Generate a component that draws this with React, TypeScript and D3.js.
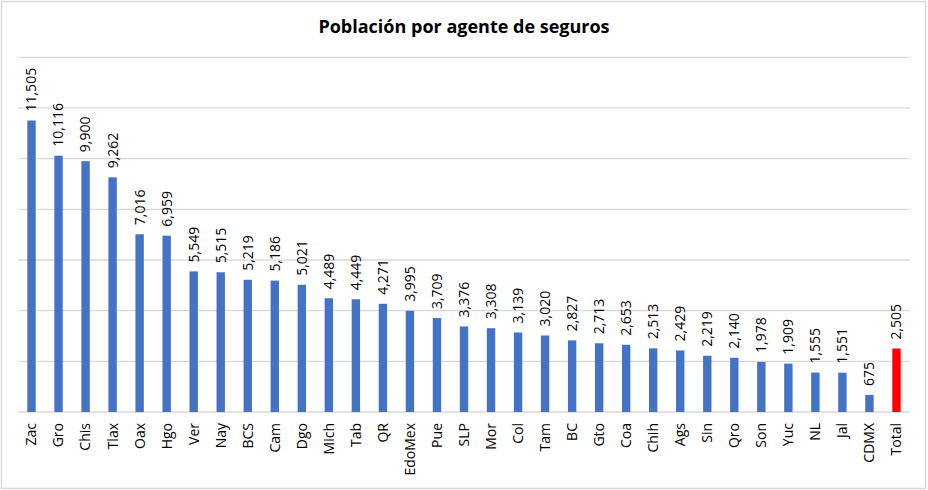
import React from 'react';
import * as d3 from 'd3';

const states = ['Zac', 'Gro', 'Chis', 'Tlax', 'Oax', 'Hgo', 'Ver', 'Nay', 'BCS', 'Cam', 'Dgo', 'Mich', 'Tab', 'QR', 'EdoMex', 'Pue', 'SLP', 'Mor', 'Col', 'Tam', 'BC', 'Gto', 'Coa', 'Chih', 'Ags', 'Sin', 'Qro', 'Son', 'Yuc', 'NL', 'Jal', 'CDMX', 'Total'];
const population = [11505, 10116, 9900, 9262, 7016, 6959, 5549, 5515, 5219, 5186, 5021, 4489, 4449, 4271, 3995, 3709, 3376, 3308, 3139, 3020, 2827, 2713, 2653, 2513, 2429, 2219, 2140, 1978, 1909, 1555, 1551, 675, 2505];
const gridTicks = [0, 2000, 4000, 6000, 8000, 10000, 12000, 14000];

const W = 928;
const H = 490;
const FONT = '"Open Sans", sans-serif';

const App: React.FC = () => {
  const x = d3.scaleBand<string>().domain(states).range([18, 910]).paddingInner(0.69).paddingOuter(0.345);
  const y = d3.scaleLinear().domain([0, 14000]).range([412, 57.3]);
  const fmt = d3.format(',');

  return (
    <svg width={W} height={H} style={{ position: 'absolute', left: 0, top: 0, background: '#fff' }}>
      <rect x={1.5} y={1.5} width={W - 4} height={H - 3} fill="#fff" stroke="#d9d9d9" strokeWidth={1.5} />
      <text x={464} y={33} textAnchor="middle" fontFamily={FONT} fontWeight="bold" fontSize={18} fill="#000">
        Población por agente de seguros
      </text>
      {gridTicks.map(t => (
        <line key={t} x1={18} x2={910} y1={y(t)} y2={y(t)} stroke="#d9d9d9" strokeWidth={1.3} />
      ))}
      {states.map((s, i) => {
        const cx = (x(s) ?? 0) + x.bandwidth() / 2;
        const top = y(population[i]);
        return (
          <g key={s}>
            <rect
              x={x(s)}
              y={top}
              width={x.bandwidth()}
              height={y(0) - top}
              fill={s === 'Total' ? '#ff0000' : '#4472c4'}
            />
            <text
              transform={`translate(${cx},${top - 9}) rotate(-90)`}
              dy="0.35em"
              fontFamily={FONT}
              fontSize={14}
              fill="#000"
            >
              {fmt(population[i])}
            </text>
            <text
              transform={`translate(${cx},${423}) rotate(-90)`}
              dy="0.35em"
              textAnchor="end"
              fontFamily={FONT}
              fontSize={14}
              fill="#000"
            >
              {s}
            </text>
          </g>
        );
      })}
    </svg>
  );
};

export default App;
